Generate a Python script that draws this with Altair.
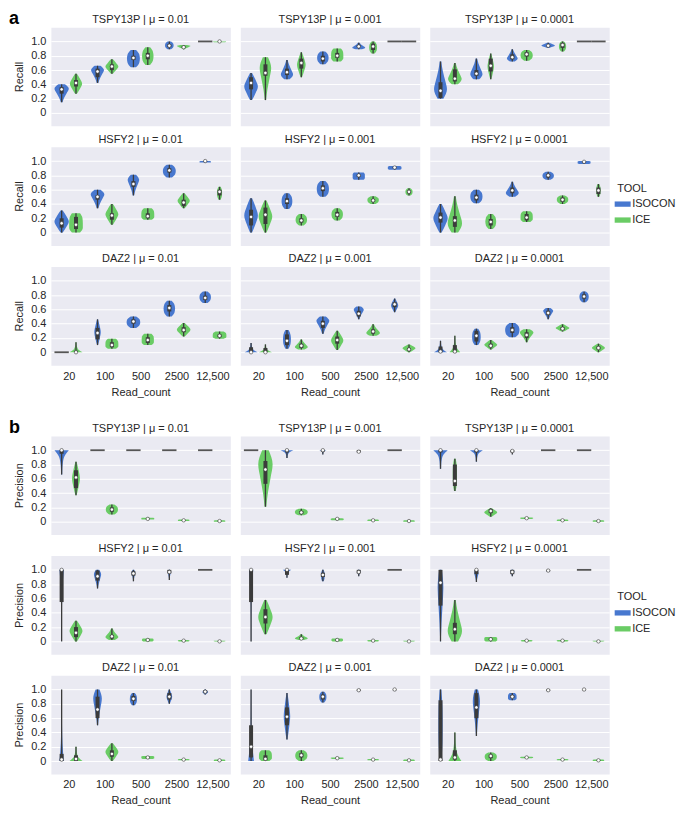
import json
import altair as alt
import pandas as pd

CATS = ["20", "100", "500", "2500", "12,500"]
TOOLS = ["ISOCON", "ICE"]
GENES = ["TSPY13P", "HSFY2", "DAZ2"]
MUS = ["0.01", "0.001", "0.0001"]
COLORS = ["#4878CF", "#6ACC65"]
YTICKS = [0, 0.2, 0.4, 0.6, 0.8, 1.0]

# relative half-widths of a violin at min, 25%, 50%, 75%, max of its range
SHAPES = {
    "D": [0.15, 0.65, 1.0, 0.65, 0.15],
    "R": [0.4, 0.9, 1.0, 0.9, 0.4],
    "B": [0.45, 1.0, 0.7, 0.35, 0.12],
    "T": [0.12, 0.35, 0.7, 1.0, 0.45],
    "F": [0.08, 0.1, 0.18, 0.4, 1.0],
    "W": [1.0, 0.4, 0.18, 0.1, 0.08],
    "K": [0.6, 1.0, 1.0, 0.95, 0.6],
    "H": [0.8, 1.0, 1.0, 1.0, 0.8],
    "N": [0.5, 1.0, 1.0, 1.0, 0.5],
}

# (min, q1, median, q3, max, shape, width); per read count: ISOCON then ICE
RECALL = {
    "TSPY13P|0.01": [
        (0.15, 0.27, 0.33, 0.36, 0.40, "T", 1.0), (0.27, 0.37, 0.42, 0.46, 0.55, "D", 0.85),
        (0.42, 0.50, 0.58, 0.62, 0.66, "T", 0.9), (0.55, 0.60, 0.65, 0.68, 0.75, "D", 0.9),
        (0.64, 0.74, 0.77, 0.80, 0.88, "R", 0.9), (0.67, 0.75, 0.80, 0.84, 0.92, "R", 0.8),
        (0.89, 0.92, 0.94, 0.96, 1.00, "R", 0.6), (0.89, 0.91, 0.92, 0.93, 0.95, "T", 0.95),
        (1.00, 1.00, 1.00, 1.00, 1.00, "", 1.0), (0.99, 0.995, 1.00, 1.00, 1.00, "H", 0.9)],
    "TSPY13P|0.001": [
        (0.18, 0.33, 0.42, 0.50, 0.56, "D", 0.95), (0.18, 0.52, 0.56, 0.68, 0.78, "T", 0.8),
        (0.47, 0.53, 0.57, 0.62, 0.74, "B", 0.85), (0.50, 0.62, 0.70, 0.76, 0.85, "D", 0.6),
        (0.68, 0.72, 0.76, 0.80, 0.86, "R", 0.8), (0.72, 0.77, 0.80, 0.84, 0.90, "K", 0.85),
        (0.89, 0.92, 0.93, 0.95, 0.98, "B", 0.9), (0.83, 0.88, 0.93, 0.97, 1.00, "R", 0.55),
        (1.00, 1.00, 1.00, 1.00, 1.00, "", 1.0), (1.00, 1.00, 1.00, 1.00, 1.00, "", 1.0)],
    "TSPY13P|0.0001": [
        (0.20, 0.21, 0.31, 0.43, 0.72, "B", 0.9), (0.40, 0.44, 0.48, 0.61, 0.70, "B", 0.95),
        (0.47, 0.52, 0.55, 0.60, 0.76, "B", 0.85), (0.47, 0.58, 0.66, 0.76, 0.83, "D", 0.45),
        (0.72, 0.75, 0.78, 0.82, 0.89, "B", 0.75), (0.73, 0.79, 0.82, 0.85, 0.88, "R", 0.85),
        (0.91, 0.93, 0.94, 0.95, 0.98, "D", 0.95), (0.86, 0.91, 0.95, 0.98, 1.00, "R", 0.5),
        (1.00, 1.00, 1.00, 1.00, 1.00, "", 1.0), (1.00, 1.00, 1.00, 1.00, 1.00, "", 1.0)],
    "HSFY2|0.01": [
        (0.00, 0.07, 0.13, 0.20, 0.31, "D", 1.0), (0.00, 0.05, 0.11, 0.22, 0.27, "K", 0.95),
        (0.34, 0.46, 0.50, 0.52, 0.60, "T", 0.95), (0.11, 0.18, 0.24, 0.27, 0.40, "D", 0.9),
        (0.52, 0.64, 0.68, 0.72, 0.81, "T", 0.8), (0.18, 0.20, 0.23, 0.27, 0.34, "K", 0.9),
        (0.77, 0.84, 0.87, 0.90, 0.95, "R", 0.9), (0.34, 0.37, 0.42, 0.46, 0.55, "D", 0.85),
        (0.98, 0.99, 1.00, 1.00, 1.00, "H", 0.8), (0.46, 0.52, 0.57, 0.60, 0.64, "R", 0.35)],
    "HSFY2|0.001": [
        (0.00, 0.10, 0.22, 0.32, 0.48, "D", 0.95), (0.00, 0.12, 0.25, 0.35, 0.45, "D", 0.95),
        (0.33, 0.40, 0.44, 0.48, 0.55, "R", 0.75), (0.10, 0.14, 0.17, 0.20, 0.26, "R", 0.8),
        (0.50, 0.58, 0.62, 0.66, 0.72, "R", 0.85), (0.17, 0.22, 0.25, 0.29, 0.34, "R", 0.8),
        (0.74, 0.78, 0.80, 0.81, 0.84, "H", 0.85), (0.40, 0.43, 0.45, 0.47, 0.51, "R", 0.8),
        (0.88, 0.90, 0.91, 0.92, 0.93, "H", 0.95), (0.52, 0.55, 0.57, 0.59, 0.62, "R", 0.5)],
    "HSFY2|0.0001": [
        (0.00, 0.14, 0.21, 0.28, 0.40, "D", 1.0), (0.00, 0.08, 0.17, 0.23, 0.51, "B", 1.0),
        (0.41, 0.45, 0.49, 0.53, 0.60, "R", 0.85), (0.05, 0.10, 0.15, 0.19, 0.26, "R", 0.75),
        (0.50, 0.55, 0.59, 0.63, 0.71, "B", 0.9), (0.15, 0.17, 0.21, 0.26, 0.30, "K", 0.85),
        (0.74, 0.77, 0.80, 0.82, 0.85, "R", 0.8), (0.40, 0.43, 0.46, 0.49, 0.52, "R", 0.8),
        (0.96, 0.98, 0.99, 1.00, 1.00, "H", 0.9), (0.50, 0.54, 0.59, 0.63, 0.68, "R", 0.3)],
    "DAZ2|0.01": [
        (0.00, 0.00, 0.00, 0.00, 0.00, "", 1.0), (0.00, 0.00, 0.00, 0.02, 0.14, "W", 0.9),
        (0.10, 0.18, 0.27, 0.34, 0.46, "D", 0.45), (0.05, 0.07, 0.10, 0.14, 0.19, "K", 0.9),
        (0.34, 0.40, 0.43, 0.46, 0.50, "R", 0.95), (0.10, 0.13, 0.17, 0.21, 0.26, "K", 0.85),
        (0.50, 0.57, 0.62, 0.66, 0.72, "R", 0.8), (0.22, 0.28, 0.31, 0.35, 0.41, "D", 0.95),
        (0.69, 0.73, 0.76, 0.79, 0.85, "R", 0.8), (0.19, 0.21, 0.23, 0.25, 0.29, "K", 0.95)],
    "DAZ2|0.001": [
        (0.00, 0.00, 0.00, 0.07, 0.13, "W", 0.9), (0.00, 0.00, 0.00, 0.06, 0.11, "W", 0.9),
        (0.05, 0.10, 0.16, 0.25, 0.31, "R", 0.55), (0.04, 0.06, 0.09, 0.12, 0.18, "B", 0.9),
        (0.26, 0.34, 0.40, 0.44, 0.50, "T", 0.9), (0.03, 0.12, 0.17, 0.22, 0.30, "D", 0.85),
        (0.46, 0.50, 0.54, 0.58, 0.64, "T", 0.7), (0.23, 0.26, 0.29, 0.32, 0.39, "B", 0.95),
        (0.56, 0.63, 0.67, 0.70, 0.75, "D", 0.5), (0.00, 0.02, 0.04, 0.06, 0.11, "D", 0.9)],
    "DAZ2|0.0001": [
        (0.00, 0.00, 0.01, 0.08, 0.16, "W", 0.9), (0.00, 0.00, 0.01, 0.10, 0.23, "W", 0.75),
        (0.10, 0.15, 0.23, 0.30, 0.33, "R", 0.6), (0.04, 0.07, 0.09, 0.12, 0.17, "D", 0.9),
        (0.21, 0.27, 0.31, 0.35, 0.41, "R", 1.0), (0.14, 0.20, 0.24, 0.28, 0.32, "T", 0.95),
        (0.46, 0.52, 0.55, 0.58, 0.62, "T", 0.7), (0.29, 0.31, 0.33, 0.35, 0.39, "D", 0.95),
        (0.70, 0.75, 0.78, 0.81, 0.85, "R", 0.65), (0.00, 0.04, 0.06, 0.08, 0.12, "D", 0.9)],
}

PRECISION = {
    "TSPY13P|0.01": [
        (0.66, 0.95, 1.00, 1.00, 1.00, "F", 1.0), (0.37, 0.47, 0.62, 0.72, 0.84, "D", 0.55),
        (1.00, 1.00, 1.00, 1.00, 1.00, "", 1.0), (0.10, 0.14, 0.17, 0.20, 0.24, "R", 0.85),
        (1.00, 1.00, 1.00, 1.00, 1.00, "", 1.0), (0.03, 0.035, 0.04, 0.045, 0.055, "H", 0.9),
        (1.00, 1.00, 1.00, 1.00, 1.00, "", 1.0), (0.01, 0.015, 0.02, 0.025, 0.03, "H", 0.8),
        (1.00, 1.00, 1.00, 1.00, 1.00, "", 1.0), (0.00, 0.005, 0.01, 0.015, 0.02, "H", 0.8)],
    "TSPY13P|0.001": [
        (1.00, 1.00, 1.00, 1.00, 1.00, "", 1.0), (0.21, 0.53, 0.73, 0.85, 1.00, "T", 1.0),
        (0.89, 0.97, 1.00, 1.00, 1.00, "F", 0.9), (0.09, 0.11, 0.13, 0.15, 0.18, "R", 0.9),
        (0.94, 0.98, 1.00, 1.00, 1.00, "F", 0.5), (0.02, 0.03, 0.04, 0.045, 0.05, "H", 0.9),
        (0.96, 0.97, 0.98, 1.00, 1.00, "N", 0.15), (0.01, 0.015, 0.02, 0.025, 0.03, "H", 0.8),
        (1.00, 1.00, 1.00, 1.00, 1.00, "", 1.0), (0.00, 0.005, 0.01, 0.015, 0.02, "H", 0.8)],
    "TSPY13P|0.0001": [
        (0.74, 0.97, 1.00, 1.00, 1.00, "F", 1.0), (0.43, 0.50, 0.57, 0.80, 0.88, "R", 0.3),
        (0.84, 0.97, 1.00, 1.00, 1.00, "F", 0.9), (0.07, 0.12, 0.15, 0.18, 0.19, "D", 0.9),
        (0.94, 0.97, 0.99, 1.00, 1.00, "F", 0.2), (0.04, 0.045, 0.05, 0.055, 0.06, "H", 0.9),
        (1.00, 1.00, 1.00, 1.00, 1.00, "", 1.0), (0.01, 0.015, 0.02, 0.025, 0.03, "H", 0.8),
        (1.00, 1.00, 1.00, 1.00, 1.00, "", 1.0), (0.00, 0.005, 0.01, 0.015, 0.02, "H", 0.8)],
    "HSFY2|0.01": [
        (0.00, 0.55, 1.00, 1.00, 1.00, "F", 0.3), (0.00, 0.06, 0.12, 0.20, 0.29, "D", 0.9),
        (0.74, 0.85, 0.91, 0.99, 1.00, "T", 0.5), (0.02, 0.04, 0.07, 0.09, 0.18, "B", 0.9),
        (0.84, 0.92, 0.95, 0.98, 1.00, "T", 0.25), (0.00, 0.01, 0.02, 0.03, 0.04, "H", 0.8),
        (0.86, 0.95, 0.97, 1.00, 1.00, "T", 0.2), (0.00, 0.005, 0.01, 0.015, 0.02, "H", 0.8),
        (1.00, 1.00, 1.00, 1.00, 1.00, "", 1.0), (0.00, 0.00, 0.00, 0.005, 0.01, "H", 0.8)],
    "HSFY2|0.001": [
        (0.00, 0.55, 1.00, 1.00, 1.00, "F", 0.3), (0.10, 0.25, 0.34, 0.45, 0.58, "D", 1.0),
        (0.89, 0.93, 1.00, 1.00, 1.00, "F", 0.6), (0.02, 0.03, 0.04, 0.06, 0.10, "B", 0.9),
        (0.84, 0.90, 0.93, 0.96, 1.00, "R", 0.25), (0.00, 0.01, 0.02, 0.03, 0.04, "H", 0.8),
        (0.91, 0.95, 0.97, 1.00, 1.00, "T", 0.25), (0.00, 0.005, 0.01, 0.015, 0.02, "H", 0.8),
        (1.00, 1.00, 1.00, 1.00, 1.00, "", 1.0), (0.00, 0.00, 0.00, 0.005, 0.01, "H", 0.8)],
    "HSFY2|0.0001": [
        (0.00, 0.50, 0.82, 1.00, 1.00, "T", 0.4), (0.00, 0.10, 0.17, 0.26, 0.58, "B", 1.0),
        (0.83, 0.94, 1.00, 1.00, 1.00, "T", 0.3), (0.00, 0.02, 0.03, 0.04, 0.06, "H", 0.9),
        (0.91, 0.94, 0.97, 1.00, 1.00, "T", 0.3), (0.00, 0.005, 0.01, 0.015, 0.02, "H", 0.8),
        (0.97, 0.98, 0.99, 1.00, 1.00, "N", 0.2), (0.00, 0.005, 0.01, 0.015, 0.02, "H", 0.8),
        (1.00, 1.00, 1.00, 1.00, 1.00, "", 1.0), (0.00, 0.00, 0.00, 0.005, 0.01, "H", 0.8)],
    "DAZ2|0.01": [
        (0.00, 0.00, 0.02, 0.10, 1.00, "W", 0.3), (0.00, 0.00, 0.03, 0.08, 0.20, "W", 0.9),
        (0.50, 0.60, 0.72, 0.90, 1.00, "T", 0.6), (0.00, 0.06, 0.10, 0.15, 0.25, "D", 0.9),
        (0.78, 0.84, 0.87, 0.91, 0.95, "R", 0.5), (0.03, 0.04, 0.05, 0.06, 0.07, "H", 0.9),
        (0.80, 0.86, 0.90, 0.95, 1.00, "D", 0.4), (0.01, 0.015, 0.02, 0.025, 0.03, "H", 0.8),
        (0.93, 0.95, 0.97, 0.99, 1.00, "D", 0.4), (0.00, 0.005, 0.01, 0.015, 0.02, "H", 0.8)],
    "DAZ2|0.001": [
        (0.00, 0.05, 0.20, 0.50, 1.00, "W", 0.4), (0.00, 0.01, 0.03, 0.08, 0.15, "K", 0.9),
        (0.30, 0.50, 0.62, 0.75, 0.95, "D", 0.45), (0.00, 0.05, 0.08, 0.11, 0.15, "R", 0.85),
        (0.82, 0.86, 0.90, 0.93, 0.97, "R", 0.5), (0.03, 0.035, 0.04, 0.045, 0.05, "H", 0.9),
        (0.97, 0.98, 0.99, 1.00, 1.00, "N", 0.15), (0.01, 0.015, 0.02, 0.025, 0.03, "H", 0.8),
        (0.98, 0.99, 1.00, 1.00, 1.00, "N", 0.15), (0.00, 0.005, 0.01, 0.015, 0.02, "H", 0.8)],
    "DAZ2|0.0001": [
        (0.00, 0.00, 0.02, 0.85, 1.00, "R", 0.3), (0.00, 0.02, 0.05, 0.15, 0.40, "W", 0.9),
        (0.35, 0.60, 0.75, 0.95, 1.00, "T", 0.5), (0.00, 0.04, 0.07, 0.09, 0.12, "R", 0.85),
        (0.85, 0.88, 0.90, 0.92, 0.95, "K", 0.6), (0.04, 0.045, 0.05, 0.055, 0.06, "H", 0.9),
        (0.97, 0.98, 0.99, 1.00, 1.00, "N", 0.15), (0.01, 0.015, 0.02, 0.025, 0.03, "H", 0.8),
        (0.98, 0.99, 1.00, 1.00, 1.00, "N", 0.15), (0.00, 0.005, 0.01, 0.015, 0.02, "H", 0.8)],
}

FONT = "Liberation Sans"
DARK = "#3b3b3b"
TEXT = "#262626"
W, H = 180, 99
HALF = 0.2


def frames(stats):
    area, box, flat = [], [], []
    for i, s in enumerate(stats):
        cat = i // 2
        tool = TOOLS[i % 2]
        c = cat + (-HALF if i % 2 == 0 else HALF)
        lo, q1, med, q3, hi, shape, w = s
        if hi - lo < 1e-9:
            flat.append({"x": c - HALF, "x2": c + HALF, "y": lo})
            continue
        for k, p in enumerate(SHAPES[shape]):
            y = lo + (hi - lo) * k / 4
            hw = HALF * w * p
            area.append({"vid": i, "tool": tool, "y": y, "xl": c - hw, "xr": c + hw})
        box.append({"c": c, "lo": lo, "hi": hi, "q1": q1, "q3": q3, "med": med})
    return (pd.DataFrame(area, columns=["vid", "tool", "y", "xl", "xr"]),
            pd.DataFrame(box, columns=["c", "lo", "hi", "q1", "q3", "med"]),
            pd.DataFrame(flat, columns=["x", "x2", "y"]))


def panel(metric, table, gene, mu, row, col, tag):
    a, b, f = frames(table[f"{gene}|{mu}"])
    xs = alt.Scale(domain=[-0.5, 4.5], nice=False, zero=False)
    ys = alt.Scale(domain=[-0.18, 1.2], nice=False, zero=False)
    if row == 2:
        xaxis = alt.Axis(values=[0, 1, 2, 3, 4], labelExpr=f"{json.dumps(CATS)}[datum.value]",
                         title="Read_count", grid=False, ticks=False, domain=False,
                         labelPadding=5, titlePadding=5)
    else:
        xaxis = None
    if col == 0:
        yaxis = alt.Axis(values=YTICKS, labelExpr="datum.value == 0 ? '0' : format(datum.value, '.1f')",
                         title=metric, grid=True, ticks=False, domain=False,
                         labelPadding=5, titlePadding=6)
    else:
        yaxis = alt.Axis(values=YTICKS, labels=False, title=None, grid=True, ticks=False, domain=False)

    def X(field):
        return alt.X(field, type="quantitative", scale=xs, axis=xaxis)

    def Y(field):
        return alt.Y(field, type="quantitative", scale=ys, axis=yaxis)

    if row == 1 and col == 2:
        legend = alt.Legend(title="TOOL", orient="none", legendX=W + 8, legendY=36,
                            symbolType="M-1.5,-0.5H1.5V0.5H-1.5Z", symbolSize=114,
                            symbolStrokeWidth=0, symbolOpacity=1, labelOffset=4,
                            rowPadding=4, titlePadding=5)
    else:
        legend = None

    area = alt.Chart(a).mark_area(orient="horizontal", interpolate="monotone", opacity=1).encode(
        x=X("xl"), x2=alt.X2("xr"), y=Y("y"),
        color=alt.Color("tool:N", scale=alt.Scale(domain=TOOLS, range=COLORS), legend=legend),
        detail="vid:N",
    )
    whisk = alt.Chart(b).mark_rule(color=DARK, strokeWidth=1.3).encode(
        x=X("c"), y=Y("lo"), y2=alt.Y2("hi"))
    boxr = alt.Chart(b).mark_rule(color=DARK, strokeWidth=4).encode(
        x=X("c"), y=Y("q1"), y2=alt.Y2("q3"))
    med = alt.Chart(b).mark_circle(size=12, fill="white", stroke=DARK, strokeWidth=0.6, opacity=1).encode(
        x=X("c"), y=Y("med"))
    flat = alt.Chart(f).mark_rule(color="#555555", strokeWidth=1.8).encode(
        x=X("x"), x2=alt.X2("x2"), y=Y("y"))
    title = alt.Chart(pd.DataFrame({"t": [f"{gene} | μ = {mu}"]})).mark_text(
        align="center", baseline="alphabetic", fontSize=11, font=FONT, color=TEXT
    ).encode(x=alt.value(W / 2), y=alt.value(-4), text="t:N")
    layers = [area, whisk, boxr, med, flat, title]
    if tag:
        layers.append(
            alt.Chart(pd.DataFrame({"t": [tag]})).mark_text(
                align="left", baseline="alphabetic", fontSize=18, fontWeight="bold",
                font=FONT, color="black").encode(x=alt.value(-42), y=alt.value(-3), text="t:N"))
    return alt.layer(*layers).properties(width=W, height=H)


def section(metric, table, tag):
    rows = []
    for r, gene in enumerate(GENES):
        cells = [panel(metric, table, gene, mu, r, c, tag if (r == 0 and c == 0) else None)
                 for c, mu in enumerate(MUS)]
        rows.append(alt.hconcat(*cells, spacing=8).resolve_scale(color="independent"))
    return alt.vconcat(*rows, spacing=6).resolve_scale(color="independent")


chart = alt.vconcat(
    section("Recall", RECALL, "a"),
    section("Precision", PRECISION, "b"),
    spacing=20,
).resolve_scale(color="independent").properties(padding=0).configure_view(
    fill="#EAEAF2", stroke="transparent"
).configure_axis(
    gridColor="white", gridWidth=1, labelFont=FONT, titleFont=FONT,
    labelFontSize=11, titleFontSize=11, labelColor=TEXT, titleColor=TEXT,
    titleFontWeight="normal",
).configure_legend(
    titleFont=FONT, labelFont=FONT, titleFontSize=11, labelFontSize=11,
    titleFontWeight="normal", titleColor=TEXT, labelColor=TEXT,
)

chart.save("out.html", embed_options={"renderer": "svg", "actions": False})
